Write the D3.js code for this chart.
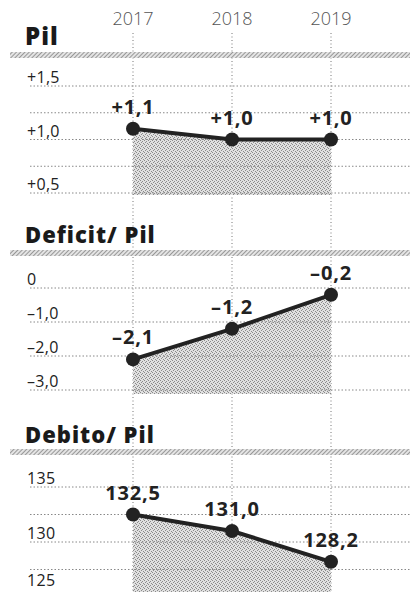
<!DOCTYPE html>
<html>
<head>
<meta charset="utf-8">
<script src="https://cdn.jsdelivr.net/npm/d3@7"></script>
<style>
  html, body { margin: 0; padding: 0; background: #fff; }
  svg { display: block; }
</style>
</head>
<body>
<svg id="chart" width="413" height="592"></svg>
<script>
// ---- data ----
const years = ["2017", "2018", "2019"];
const pilValues = [1.1, 1.0, 1.0];
const pilLabels = ["+1,1", "+1,0", "+1,0"];
const deficitValues = [-2.1, -1.2, -0.2];
const deficitLabels = ["\u20132,1", "\u20131,2", "\u20130,2"];
const debitoValues = [132.5, 131.0, 128.2];
const debitoLabels = ["132,5", "131,0", "128,2"];
const pilTicks = [1.5, 1.0, 0.5];
const pilTickLabels = ["+1,5", "+1,0", "+0,5"];
const pilGrid = [1.5, 1.25, 1.0, 0.75, 0.5];
const deficitTicks = [0, -1, -2, -3];
const deficitTickLabels = ["0", "\u20131,0", "\u20132,0", "\u20133,0"];
const deficitGrid = [0, -1, -2, -3];
const debitoTicks = [135, 130, 125];
const debitoTickLabels = ["135", "130", "125"];
const debitoGrid = [135, 132.5, 130, 127.5, 125];
const titles = ["Pil", "Deficit/ Pil", "Debito/ Pil"];

// ---- layout ----
const svg = d3.select("#chart");
const W = 413, H = 592;
const x = d3.scalePoint().domain(years).range([133, 331]).padding(0);

const defs = svg.append("defs");
// stipple pattern for the area
const stip = defs.append("pattern").attr("id", "stipple")
  .attr("width", 4).attr("height", 4).attr("patternUnits", "userSpaceOnUse");
stip.append("rect").attr("width", 4).attr("height", 4).attr("fill", "#e0e0e0");
[[0,0],[2,1],[1,2],[3,3]].forEach(([a,b]) =>
  stip.append("rect").attr("x", a).attr("y", b).attr("width", 1).attr("height", 1).attr("fill", "#8a8a8a"));
// hatch pattern for bands
const hatch = defs.append("pattern").attr("id", "hatch")
  .attr("width", 3).attr("height", 3).attr("patternUnits", "userSpaceOnUse")
  .attr("patternTransform", "rotate(45)");
hatch.append("rect").attr("width", 3).attr("height", 3).attr("fill", "#e4e4e4");
hatch.append("line").attr("x1", 0).attr("y1", 0).attr("x2", 0).attr("y2", 3)
  .attr("stroke", "#777").attr("stroke-width", 1.4);

// year labels
svg.append("g").selectAll("text").data(years).join("text")
  .attr("x", d => x(d)).attr("y", 25)
  .attr("text-anchor", "middle")
  .attr("font-family", "'Open Sans', sans-serif")
  .attr("font-weight", 300).attr("font-size", 18)
  .attr("fill", "#555")
  .text(d => d);

const panels = [
  { title: titles[0], vals: pilValues, labels: pilLabels, ticks: pilTicks, tickLabels: pilTickLabels, grid: pilGrid,
    domain: [0.5, 1.5], range: [193, 86], titleY: 45, bandY: 52, bottom: 195, titleSize: 24 },
  { title: titles[1], vals: deficitValues, labels: deficitLabels, ticks: deficitTicks, tickLabels: deficitTickLabels, grid: deficitGrid,
    domain: [-3, 0], range: [390, 288], titleY: 243, bandY: 250, bottom: 394, titleSize: 22 },
  { title: titles[2], vals: debitoValues, labels: debitoLabels, ticks: debitoTicks, tickLabels: debitoTickLabels, grid: debitoGrid,
    domain: [125, 135], range: [597, 487], titleY: 443, bandY: 449, bottom: 592, titleSize: 22 }
];

// vertical dotted lines
svg.append("g").selectAll("line").data(years).join("line")
  .attr("x1", d => x(d)).attr("x2", d => x(d))
  .attr("y1", 33).attr("y2", H)
  .attr("stroke", "#777").attr("stroke-width", 1).attr("stroke-dasharray", "1,2.5");

panels.forEach(p => {
  const y = d3.scaleLinear().domain(p.domain).range(p.range);
  const g = svg.append("g");
  const pts = years.map((yr, i) => ({ yr, v: p.vals[i], label: p.labels[i] }));

  // area
  const area = d3.area().x(d => x(d.yr)).y0(p.bottom).y1(d => y(d.v));
  g.append("path").datum(pts).attr("d", area).attr("fill", "url(#stipple)");

  // gridlines
  g.append("g").selectAll("line").data(p.grid).join("line")
    .attr("x1", 30).attr("x2", 410)
    .attr("y1", d => y(d)).attr("y2", d => y(d))
    .attr("stroke", "#888").attr("stroke-width", 1).attr("stroke-dasharray", "1.5,2");

  // tick labels
  g.append("g").selectAll("text").data(p.ticks).join("text")
    .attr("x", 27).attr("y", d => Math.min(y(d) - 3, H - 6))
    .attr("font-family", "'Open Sans', sans-serif")
    .attr("font-size", 16).attr("letter-spacing", 0.3).attr("fill", "#222")
    .text((d, i) => p.tickLabels[i]);

  // band
  g.append("rect").attr("x", 10).attr("y", p.bandY).attr("width", 400).attr("height", 6)
    .attr("fill", "url(#hatch)");

  // title
  g.append("text").attr("x", 25).attr("y", p.titleY)
    .attr("font-family", "'Open Sans', sans-serif")
    .attr("font-weight", 800).attr("font-size", p.titleSize)
    .attr("letter-spacing", 1)
    .attr("fill", "#1a1a1a")
    .text(p.title);

  // line
  const line = d3.line().x(d => x(d.yr)).y(d => y(d.v));
  g.append("path").datum(pts).attr("d", line)
    .attr("fill", "none").attr("stroke", "#222").attr("stroke-width", 4);

  // dots
  g.append("g").selectAll("circle").data(pts).join("circle")
    .attr("cx", d => x(d.yr)).attr("cy", d => y(d.v)).attr("r", 7)
    .attr("fill", "#222");

  // value labels
  g.append("g").selectAll("text").data(pts).join("text")
    .attr("x", d => x(d.yr)).attr("y", d => y(d.v) - 15)
    .attr("text-anchor", "middle")
    .attr("font-family", "'Open Sans', sans-serif")
    .attr("font-weight", 700).attr("font-size", 20)
    .attr("letter-spacing", 0.8)
    .attr("fill", "#222")
    .text(d => d.label);
});
</script>
</body>
</html>
